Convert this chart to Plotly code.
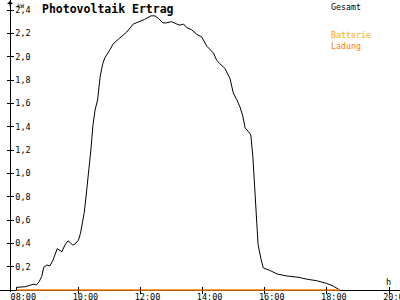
import plotly.graph_objects as go

day = "2024-06-01 "
times = ["08:01", "08:17", "08:26", "08:33", "08:39", "08:44", "08:49", "08:53", "08:59", "09:05",
         "09:11", "09:19", "09:28", "09:34", "09:40", "09:49", "09:53", "10:00", "10:04", "10:07",
         "10:11", "10:14", "10:17", "10:20", "10:24", "10:28", "10:32", "10:37", "10:42", "10:47",
         "10:51", "11:01", "11:07", "11:20", "11:33", "11:46", "11:59", "12:08", "12:20", "12:28",
         "12:34", "12:43", "12:50", "13:00", "13:10", "13:16", "13:23", "13:29", "13:39", "13:49",
         "13:58", "14:08", "14:21", "14:27", "14:33", "14:43", "14:53", "14:59", "15:06", "15:12",
         "15:17", "15:22", "15:28", "15:33", "15:37", "15:39", "15:43", "15:47", "15:53", "15:57",
         "16:11", "16:24", "16:43", "17:05", "17:22", "17:40", "17:59", "18:12", "18:25"]
gesamt = [0.023, 0.028, 0.040, 0.049, 0.045, 0.071, 0.114, 0.195, 0.214, 0.206,
          0.257, 0.354, 0.328, 0.386, 0.422, 0.386, 0.392, 0.428, 0.486, 0.557,
          0.657, 0.771, 0.885, 1.028, 1.20, 1.41, 1.54, 1.63, 1.83, 1.94,
          1.99, 2.06, 2.11, 2.16, 2.21, 2.28, 2.30, 2.32, 2.35, 2.35,
          2.33, 2.29, 2.29, 2.30, 2.28, 2.27, 2.28, 2.25, 2.23, 2.19,
          2.17, 2.09, 2.03, 1.97, 1.94, 1.90, 1.81, 1.69, 1.63, 1.57,
          1.50, 1.39, 1.36, 1.33, 1.14, 0.99, 0.69, 0.39, 0.26, 0.19,
          0.165, 0.137, 0.12, 0.109, 0.092, 0.080, 0.057, 0.034, 0.0]
ladung_times = ["08:00", "18:25"]
ladung = [0.0, 0.0]

ytick_vals = [0.2, 0.4, 0.6, 0.8, 1.0, 1.2, 1.4, 1.6, 1.8, 2.0, 2.2, 2.4]
xtick_labels = ["08:00", "10:00", "12:00", "14:00", "16:00", "18:00", "20:00"]

mono = "DejaVu Sans Mono"
x_range = [day + "07:28:30", day + "20:21:10"]
y_range = [-2 / 116.67, 2.486]
y_domain = [8 / 300, 1]

fig = go.Figure()
fig.add_trace(go.Scatter(x=[day + t for t in times], y=gesamt, mode="lines",
                         line=dict(color="black", width=1), name="Gesamt"))
fig.add_trace(go.Scatter(x=[day + t for t in ladung_times], y=ladung, mode="lines",
                         line=dict(color="#ff8000", width=1.5), name="Ladung"))
fig.add_trace(go.Scatter(x=[day + "12:00"], y=[1], xaxis="x2", yaxis="y2",
                         mode="markers", marker=dict(opacity=0), hoverinfo="skip"))

tickvals_x = [day + t for t in xtick_labels]
fig.update_layout(
    template="none",
    width=400, height=300,
    margin=dict(l=0, r=0, t=0, b=0, pad=0),
    paper_bgcolor="white", plot_bgcolor="white",
    showlegend=False,
    separators=",.",
    xaxis=dict(type="date", range=x_range, tickvals=tickvals_x,
               showticklabels=False,
               showgrid=False, zeroline=False, showline=True, linecolor="black", linewidth=1,
               ticks="outside", ticklen=3, tickcolor="black", layer="below traces",
               automargin=False, anchor="free", position=10 / 300),
    yaxis=dict(range=y_range, domain=y_domain, tickvals=ytick_vals, tickformat=".1f",
               showgrid=False, zeroline=False, showline=True, linecolor="black", linewidth=1,
               ticks="outside", ticklen=3, tickcolor="black", layer="below traces",
               ticklabelposition="inside", ticklabelstandoff=3,
               tickfont=dict(family=mono, size=8.5, color="black"),
               automargin=False, anchor="free", position=10 / 400),
    xaxis2=dict(type="date", range=x_range, tickvals=tickvals_x, ticktext=xtick_labels,
                overlaying="x", side="bottom",
                tickfont=dict(family=mono, size=8.5, color="black"),
                ticklabelshift=7, ticklabelstandoff=0, ticklabeloverflow="allow",
                showgrid=False, zeroline=False, showline=False,
                ticks="inside", ticklen=3, tickcolor="black",
                automargin=False, anchor="free", position=10 / 300),
    yaxis2=dict(range=y_range, domain=y_domain, tickvals=ytick_vals, overlaying="y",
                showticklabels=False, showgrid=False, zeroline=False, showline=False,
                ticks="inside", ticklen=3, tickcolor="black",
                automargin=False, anchor="free", position=10 / 400),
)

ann = [
    dict(text="<b>Photovoltaik Ertrag</b>", x=40 / 400, y=1 - 9 / 300, xanchor="left", yanchor="middle",
         font=dict(family=mono, size=11.5, color="black")),
    dict(text="Gesamt", x=329 / 400, y=1 - 7 / 300, xanchor="left", yanchor="middle",
         font=dict(family=mono, size=8.3, color="black")),
    dict(text="<span style='color:#ffaa00'>Batterie</span><br><span style='color:#ff8000'>Ladung</span>",
         x=329 / 400, y=1 - 40.5 / 300, xanchor="left", yanchor="middle", align="left",
         font=dict(family=mono, size=8.3, color="#ff8000")),
    dict(text="kW", x=15 / 400, y=1, xanchor="left", yanchor="top",
         font=dict(family=mono, size=6, color="black")),
    dict(text="h", x=388 / 400, y=1 - 282 / 300, xanchor="center", yanchor="middle",
         font=dict(family=mono, size=8.5, color="black")),
]
for a in ann:
    a.update(xref="paper", yref="paper", showarrow=False)
fig.update_layout(annotations=ann + [
    dict(x=10 / 400, y=1, xref="paper", yref="paper", ax=0, ay=8, showarrow=True,
         arrowhead=1, arrowsize=1, arrowwidth=1, arrowcolor="black", text="")
])

fig.write_html("out.html")
